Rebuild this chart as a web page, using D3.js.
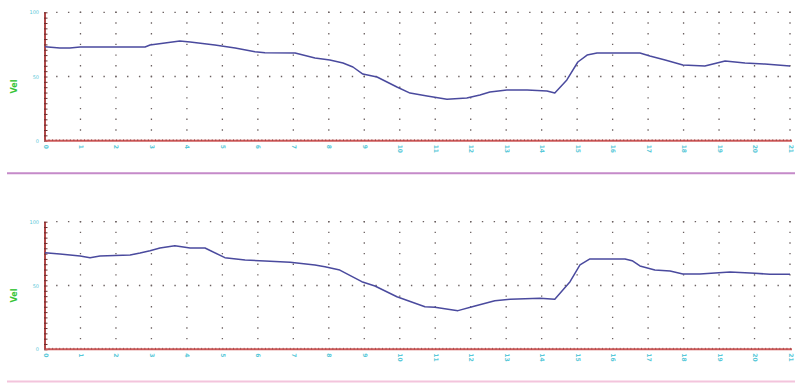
<!DOCTYPE html>
<html>
<head>
<meta charset="utf-8">
<script src="https://cdn.jsdelivr.net/npm/d3@7"></script>
<style>
  body { margin: 0; background: #ffffff; }
  svg { display: block; }
</style>
</head>
<body>
<svg id="chart" width="795" height="383"></svg>
<script>
// Tick labels
const xTickLabels = d3.range(0, 22).map(String);
const yTickValues = [0, 50, 100];
const yTickLabels = ["0", "50", "100"];
const axisTitle = "Vel";

// Upper trace: [position, value]
const upperSeries = [
  [0, 73.2], [0.42, 72.2], [0.70, 72.2], [0.99, 73.0], [2.82, 73.0], [2.96, 74.5],
  [3.38, 76.1], [3.80, 77.6], [4.09, 76.9], [4.79, 74.5], [5.36, 72.2], [5.92, 69.3],
  [6.20, 68.5], [7.05, 68.3], [7.61, 64.4], [8.03, 62.9], [8.40, 60.5], [8.68, 57.4],
  [8.96, 51.9], [9.36, 49.6], [9.64, 45.7], [9.92, 41.8], [10.29, 37.1], [10.77, 34.8],
  [11.33, 32.2], [11.89, 33.3], [12.26, 35.6], [12.54, 37.9], [13.02, 39.5], [13.59, 39.5],
  [14.15, 38.7], [14.37, 37.1], [14.71, 47.3], [15.02, 61.3], [15.28, 66.7], [15.56, 68.3],
  [16.77, 68.3], [17.05, 66.0], [17.48, 62.9], [17.98, 59.0], [18.60, 58.2], [19.17, 62.1],
  [19.73, 60.5], [20.29, 59.7], [21, 58.2]
];

// Lower trace: [position, value]
const lowerSeries = [
  [0, 75.7], [0.42, 74.7], [0.99, 73.1], [1.27, 71.8], [1.55, 73.1], [1.97, 73.5],
  [2.40, 73.9], [2.68, 75.5], [2.96, 77.3], [3.24, 79.4], [3.66, 81.2], [4.09, 79.4],
  [4.51, 79.4], [5.07, 71.8], [5.64, 70.0], [6.20, 69.2], [6.91, 68.2], [7.61, 66.1],
  [7.89, 64.7], [8.31, 62.1], [8.93, 53.0], [9.30, 49.6], [9.92, 41.2], [10.71, 33.4],
  [10.99, 32.9], [11.64, 30.3], [12.12, 33.9], [12.68, 38.1], [13.11, 39.2], [13.95, 40.0],
  [14.37, 39.2], [14.80, 53.0], [15.08, 66.1], [15.36, 70.8], [16.35, 70.8], [16.55, 69.4],
  [16.77, 65.3], [17.19, 62.1], [17.62, 61.4], [17.98, 59.0], [18.46, 59.0], [19.31, 60.6],
  [20.01, 59.6], [20.43, 58.8], [21, 58.8]
];

const panels = [
  { series: upperSeries, top: 12.3, bottom: 140.7, rule: 173.3, ruleColor: "#c58ac9" },
  { series: lowerSeries, top: 221.7, bottom: 349.3, rule: 381.6, ruleColor: "#f3c4dc" }
];

const svg = d3.select("#chart");
const left = 45, right = 790;

const x = d3.scaleLinear().domain([0, 21]).range([left, right]);

const dotColor = "#6b6060";
const axisColor = "#b04848";
const xAxisColor = "#d05a5a";
const tickColor = "#6e2e2e";
const labelColor = "#58c8d8";

panels.forEach(p => {
  const g = svg.append("g");
  const y = d3.scaleLinear().domain([0, 100]).range([p.bottom, p.top]);

  // Dotted vertical grid at each major position
  const vStep = (p.bottom - p.top) / 12;
  g.append("g").selectAll("line")
    .data(d3.range(1, 22))
    .join("line")
    .attr("x1", d => x(d)).attr("x2", d => x(d))
    .attr("y1", y(100) - 0.7).attr("y2", y(0) - 2)
    .attr("stroke", dotColor)
    .attr("stroke-width", 1.3)
    .attr("stroke-dasharray", `1.4 ${vStep - 1.4}`);

  // Dotted horizontal grid at the top and middle values
  const hStep = (x(1) - x(0)) / 3;
  g.append("g").selectAll("line")
    .data([50, 100])
    .join("line")
    .attr("x1", x(0) + hStep - 0.7).attr("x2", right + 1)
    .attr("y1", d => y(d)).attr("y2", d => y(d))
    .attr("stroke", dotColor)
    .attr("stroke-width", 1.3)
    .attr("stroke-dasharray", `1.4 ${hStep - 1.4}`);

  // Y axis with fine ticks
  const yAxis = d3.axisLeft(y)
    .tickValues(d3.range(0, 100.001, 100 / 24))
    .tickSize(2)
    .tickFormat("");
  const ya = g.append("g").attr("transform", `translate(${left},0)`).call(yAxis);
  ya.select(".domain").attr("stroke", axisColor).attr("stroke-width", 2)
    .attr("d", `M0,${p.top}V${p.bottom}`);
  ya.selectAll(".tick line").attr("stroke", tickColor).attr("stroke-width", 1)
    .attr("x1", 2.5).attr("x2", -1);

  // Y tick labels
  g.append("g").selectAll("text")
    .data(yTickValues)
    .join("text")
    .attr("x", left - 6)
    .attr("y", d => y(d) + 2)
    .attr("text-anchor", "end")
    .attr("font-family", "DejaVu Sans, sans-serif")
    .attr("font-size", 5)
    .attr("fill", labelColor)
    .text((d, i) => yTickLabels[i]);

  // Axis title, rotated
  g.append("text")
    .attr("transform", `translate(17,${(p.top + p.bottom) / 2 + 10}) rotate(-90)`)
    .attr("text-anchor", "middle")
    .attr("font-family", "DejaVu Sans, sans-serif")
    .attr("font-weight", "bold")
    .attr("font-size", 8)
    .attr("fill", "#38c438")
    .text(axisTitle);

  // X axis with fine ticks
  const xAxis = d3.axisBottom(x)
    .tickValues(d3.range(0, 21.001, 0.1))
    .tickSize(2)
    .tickFormat("");
  const xa = g.append("g").attr("transform", `translate(0,${p.bottom})`).call(xAxis);
  xa.select(".domain").attr("stroke", xAxisColor).attr("stroke-width", 2)
    .attr("d", `M${left},0H${right + 2}`);
  xa.selectAll(".tick line").attr("stroke", "#8a4040").attr("stroke-width", 0.7)
    .attr("y1", -1.5).attr("y2", 0.3);

  // X tick labels
  g.append("g").selectAll("text")
    .data(xTickLabels)
    .join("text")
    .attr("transform", (d, i) => `translate(${x(i) - 1.5},${p.bottom + 4}) rotate(90)`)
    .attr("text-anchor", "start")
    .attr("font-family", "DejaVu Sans, sans-serif")
    .attr("font-weight", "bold")
    .attr("font-size", 6)
    .attr("fill", labelColor)
    .text(d => d);

  // Trace
  const line = d3.line().x(d => x(d[0])).y(d => y(d[1]));
  g.append("path")
    .datum(p.series)
    .attr("d", line)
    .attr("fill", "none")
    .attr("stroke", "#4a4a9e")
    .attr("stroke-width", 1.5)
    .attr("stroke-linejoin", "round");

  // Separator rule below the panel
  g.append("line")
    .attr("x1", 7).attr("x2", 795)
    .attr("y1", p.rule).attr("y2", p.rule)
    .attr("stroke", p.ruleColor)
    .attr("stroke-width", 2);
});
</script>
</body>
</html>
